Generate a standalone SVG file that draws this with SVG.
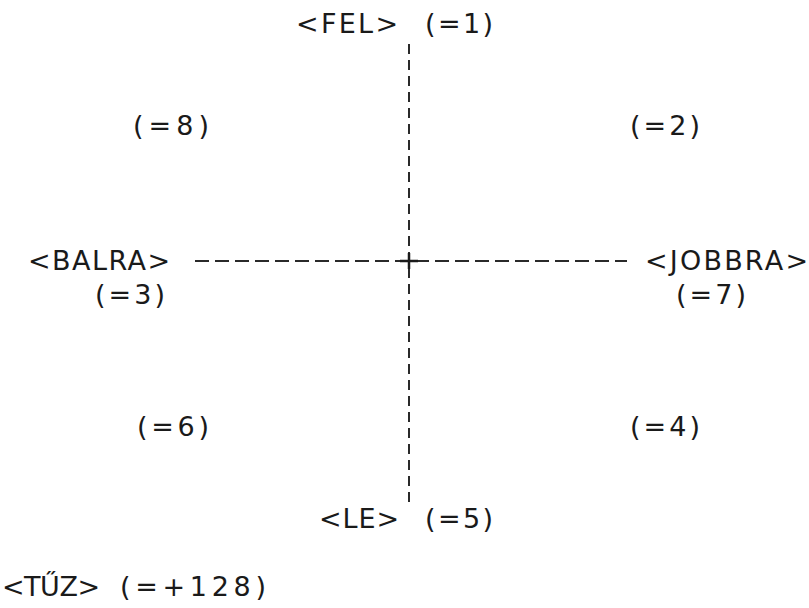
<svg xmlns="http://www.w3.org/2000/svg" width="809" height="608" viewBox="0 0 809 608">
<style>
  text { font-family: "DejaVu Sans", "Liberation Sans", sans-serif; font-size: 27px; fill: #1a1a1a; }
  .axis { stroke: #2a2a2a; stroke-width: 2; fill: none; }
</style>
<rect width="809" height="608" fill="#ffffff"/>
<g id="connectors">
  <line class="axis" x1="409" y1="44" x2="409" y2="502" stroke-dasharray="10 6"/>
  <line class="axis" x1="195" y1="261" x2="627" y2="261" stroke-dasharray="14 6"/>
  <path id="center-plus" d="M400 261 H418 M409 253 V269" stroke="#1a1a1a" stroke-width="2.5" fill="none"/>
</g>
<g id="fel"><text x="296" y="33" textLength="102" lengthAdjust="spacing">&lt;FEL&gt;</text><text x="425" y="33" textLength="68" lengthAdjust="spacing">(=1)</text></g>
<g id="nw"><text x="133" y="135" textLength="76" lengthAdjust="spacing">(=8)</text></g>
<g id="ne"><text x="630" y="135" textLength="70" lengthAdjust="spacing">(=2)</text></g>
<g id="balra"><text x="28" y="270" textLength="142" lengthAdjust="spacing">&lt;BALRA&gt;</text><text x="95" y="304" textLength="70" lengthAdjust="spacing">(=3)</text></g>
<g id="jobbra"><text x="645" y="270" textLength="163" lengthAdjust="spacing">&lt;JOBBRA&gt;</text><text x="676" y="304" textLength="70" lengthAdjust="spacing">(=7)</text></g>
<g id="sw"><text x="137" y="436" textLength="72" lengthAdjust="spacing">(=6)</text></g>
<g id="se"><text x="630" y="436" textLength="70" lengthAdjust="spacing">(=4)</text></g>
<g id="le"><text x="319" y="528" textLength="80" lengthAdjust="spacing">&lt;LE&gt;</text><text x="425" y="528" textLength="68" lengthAdjust="spacing">(=5)</text></g>
<g id="tuz"><text x="2" y="596" textLength="98" lengthAdjust="spacing">&lt;TŰZ&gt;</text><text x="120" y="596" textLength="146" lengthAdjust="spacing">(=+128)</text></g>
</svg>
